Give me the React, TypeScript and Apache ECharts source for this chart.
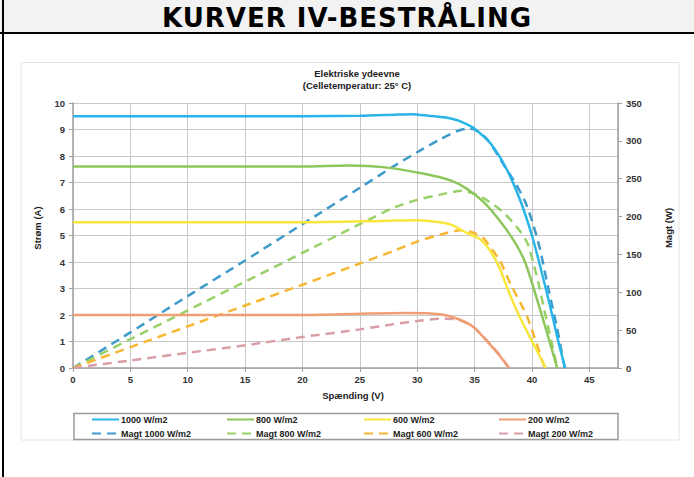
import React, { useEffect, useRef } from "react";
import * as echarts from "echarts";

const pageTitle = "KURVER IV-BESTRÅLING";
const chartTitle1 = "Elektriske ydeevne";
const chartTitle2 = "(Celletemperatur: 25° C)";
const xName = "Spænding (V)";
const yLeftName = "Strøm (A)";
const yRightName = "Magt (W)";

// I-V curves (voltage V, current A)
const volt1000 = [0, 5, 10, 15, 20, 25, 28, 29.5, 31, 32.5, 33.5, 34.3, 35, 36.4, 37.8, 39.0, 40.0, 40.8, 41.6, 42.3, 42.9];
const amp1000 = [9.5, 9.5, 9.5, 9.5, 9.5, 9.52, 9.56, 9.58, 9.52, 9.45, 9.35, 9.2, 9.03, 8.47, 7.5, 6.3, 5.0, 3.7, 2.3, 1.0, 0];
const volt800 = [0, 10, 20, 24, 27, 30.6, 32.9, 34.3, 35.8, 37.3, 38.5, 39.4, 40.4, 41.3, 42.2];
const amp800 = [7.6, 7.6, 7.6, 7.64, 7.58, 7.33, 7.08, 6.77, 6.26, 5.5, 4.75, 4.0, 2.65, 1.35, 0];
const volt600 = [0, 10, 20, 27, 30, 32, 33, 34.3, 35.5, 36.4, 37.2, 38.0, 38.8, 39.6, 40.4, 41.2];
const amp600 = [5.5, 5.5, 5.5, 5.55, 5.58, 5.5, 5.4, 5.1, 4.85, 4.4, 3.75, 2.85, 2.05, 1.35, 0.68, 0];
const volt200 = [0, 10, 20, 25, 29, 32, 33.5, 34.9, 36.4, 37.2, 38];
const amp200 = [2.0, 2.0, 2.0, 2.05, 2.08, 2.03, 1.86, 1.55, 0.86, 0.45, 0];

// Power curves (voltage V, power W)
const pVolt1000 = [0, 5, 10, 15, 20, 25, 28, 30, 32, 33.5, 34.3, 35, 36.1, 37.8, 38.6, 39.4, 40.1, 40.7, 41.5, 42.2, 42.85];
const watt1000 = [0, 47, 95, 142, 190, 238, 267, 285, 302, 313, 316, 315, 302, 262, 243, 220, 190, 157, 100, 52, 0];
const pVolt800 = [0, 5, 10, 15, 20, 25, 28, 30, 32, 33.9, 35, 35.8, 37.0, 38.0, 39.0, 39.6, 40.1, 40.6, 41.1, 41.7, 42.2];
const watt800 = [0, 38, 76, 114, 152, 190, 212, 222, 229, 234, 230, 224, 212, 198, 180, 165, 140, 110, 75, 35, 0];
const pVolt600 = [0, 5, 10, 15, 20, 25, 28, 30, 32, 33.8, 35, 35.8, 36.5, 37.2, 38.1, 39.6, 41.1];
const watt600 = [0, 27.5, 55, 82.5, 110, 138, 155, 167, 176, 182, 178, 171, 157, 142, 112, 67, 0];
const pVolt200 = [0, 5, 10, 15, 20, 25, 28, 30, 32, 33.5, 34.9, 36.4, 37.2, 38];
const watt200 = [0, 10, 20, 30, 41, 51, 58, 62, 65, 64, 54, 31, 17, 0];

const solidNames = ["1000 W/m2", "800 W/m2", "600 W/m2", "200 W/m2"];
const dashedNames = ["Magt 1000 W/m2", "Magt 800 W/m2", "Magt 600 W/m2", "Magt 200 W/m2"];
const solidColors = ["#29b5e8", "#8dc75b", "#f8e63c", "#ef9f73"];
const dashedColors = ["#3d9ac9", "#98d06a", "#f7b733", "#d99ea6"];

const xTicks = { min: 0, max: 47.5, interval: 5 };
const yLeftTicks = { min: 0, max: 10, interval: 1 };
const yRightTicks = { min: 0, max: 350, interval: 50 };

const pair = (xs: number[], ys: number[]) => xs.map((x, i) => [x, ys[i]]);

const solidData = [pair(volt1000, amp1000), pair(volt800, amp800), pair(volt600, amp600), pair(volt200, amp200)];
const dashedData = [pair(pVolt1000, watt1000), pair(pVolt800, watt800), pair(pVolt600, watt600), pair(pVolt200, watt200)];

const FONT = "'Liberation Sans', Arial, sans-serif";
const labelStyle = { fontFamily: FONT, fontSize: 9.5, fontWeight: "bold" as const, color: "#333" };

export default function App() {
  const ref = useRef<HTMLDivElement>(null);
  useEffect(() => {
    const chart = echarts.init(ref.current!, null, { renderer: "svg" });
    const series: any[] = [];
    dashedData.forEach((d, i) => {
      series.push({
        name: dashedNames[i],
        type: "line",
        yAxisIndex: 1,
        data: d,
        symbol: "none",
        smooth: 0.25,
        lineStyle: { color: dashedColors[i], width: 2.5, type: [9, 6] },
        itemStyle: { color: dashedColors[i] },
        z: 2,
      });
    });
    solidData.forEach((d, i) => {
      series.push({
        name: solidNames[i],
        type: "line",
        yAxisIndex: 0,
        data: d,
        symbol: "none",
        smooth: 0.25,
        lineStyle: { color: solidColors[i], width: 2.5, type: "solid" },
        itemStyle: { color: solidColors[i] },
        z: 3,
      });
    });
    const legendLefts = [91, 226, 363, 498];
    const legends = legendLefts.map((left, i) => ({
      left,
      top: 415,
      orient: "vertical",
      itemWidth: 27,
      itemHeight: 8,
      itemGap: 5,
      padding: 0,
      data: [solidNames[i], dashedNames[i]],
      itemStyle: { color: "transparent", borderColor: "transparent", borderWidth: 0 },
      textStyle: { fontFamily: FONT, fontSize: 9, fontWeight: "bold", color: "#222", padding: [0, 0, 0, -3] },
      selectedMode: false,
    }));
    chart.setOption({
      animation: false,
      backgroundColor: "transparent",
      grid: { left: 73, top: 103, right: 76, bottom: 109, containLabel: false },
      xAxis: {
        type: "value",
        ...xTicks,
        axisLine: { show: true, lineStyle: { color: "#a0a0a0", width: 1.5 } },
        axisTick: { show: true, length: 4, lineStyle: { color: "#a0a0a0" } },
        axisLabel: { ...labelStyle, margin: 6, showMaxLabel: false },
        splitLine: { show: true, lineStyle: { color: "#c8c8c8", width: 1 } },
      },
      yAxis: [
        {
          type: "value",
          ...yLeftTicks,
          position: "left",
          axisLine: { show: true, lineStyle: { color: "#a0a0a0", width: 1.5 } },
          axisTick: { show: true, length: 4, lineStyle: { color: "#a0a0a0" } },
          axisLabel: { ...labelStyle, margin: 8 },
          splitLine: { show: true, lineStyle: { color: "#c8c8c8", width: 1 } },
        },
        {
          type: "value",
          ...yRightTicks,
          position: "right",
          axisLine: { show: true, lineStyle: { color: "#a0a0a0", width: 1.5 } },
          axisTick: { show: true, length: 4, lineStyle: { color: "#a0a0a0" } },
          axisLabel: { ...labelStyle, margin: 8 },
          splitLine: { show: false },
        },
      ],
      legend: legends,
      graphic: [
        {
          type: "rect",
          shape: { x: 21, y: 62.5, width: 658, height: 377.5 },
          style: { fill: "none", stroke: "#e4e4e4", lineWidth: 1 },
          silent: true,
        },
        {
          type: "rect",
          shape: { x: 74, y: 413.5, width: 544, height: 26 },
          style: { fill: "none", stroke: "#9a9a9a", lineWidth: 1.5 },
          silent: true,
        },
        {
          type: "text",
          x: 357,
          y: 73,
          style: { text: chartTitle1, fill: "#222", font: `bold 9.5px ${FONT}`, textAlign: "center", textVerticalAlign: "middle" },
        },
        {
          type: "text",
          x: 357,
          y: 85,
          style: { text: chartTitle2, fill: "#222", font: `bold 9.5px ${FONT}`, textAlign: "center", textVerticalAlign: "middle" },
        },
        {
          type: "text",
          x: 353,
          y: 395,
          style: { text: xName, fill: "#222", font: `bold 9.5px ${FONT}`, textAlign: "center", textVerticalAlign: "middle" },
        },
        {
          type: "text",
          x: 37,
          y: 228,
          rotation: Math.PI / 2,
          style: { text: yLeftName, fill: "#222", font: `bold 9.5px ${FONT}`, textAlign: "center", textVerticalAlign: "middle" },
        },
        {
          type: "text",
          x: 668,
          y: 228,
          rotation: Math.PI / 2,
          style: { text: yRightName, fill: "#222", font: `bold 9.5px ${FONT}`, textAlign: "center", textVerticalAlign: "middle" },
        },
      ],
      series,
    });
    return () => chart.dispose();
  }, []);

  return (
    <div style={{ position: "fixed", left: 0, top: 0, width: 694, height: 477, background: "#fff", overflow: "hidden" }}>
      <div ref={ref} style={{ position: "absolute", left: 0, top: 0, width: 694, height: 477 }} />
      <div
        style={{
          position: "absolute",
          left: 0,
          top: 0,
          width: 694,
          height: 34,
          background: "#f2f2f2",
          borderBottom: "2px solid #000",
          display: "flex",
          alignItems: "center",
          justifyContent: "center",
          fontFamily: "'DejaVu Sans', Verdana, sans-serif",
          fontWeight: "bold",
          fontSize: 26,
          letterSpacing: 1,
          color: "#000",
          lineHeight: "34px",
          paddingTop: 3,
          boxSizing: "border-box",
        }}
      >
        {pageTitle}
      </div>
      <div style={{ position: "absolute", left: 2, top: 0, width: 2, height: 477, background: "#000" }} />
    </div>
  );
}
